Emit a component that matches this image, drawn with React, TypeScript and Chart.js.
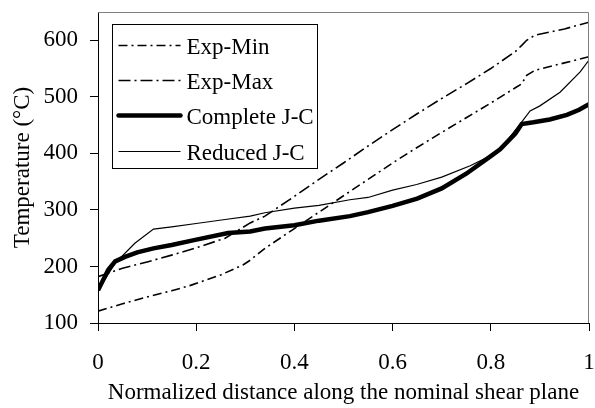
import React, { useEffect, useRef } from "react";
import { Chart, registerables } from "chart.js";

Chart.register(...registerables);

// ---- data ----
const expMaxX = [0, 0.05, 0.1, 0.15, 0.2, 0.259, 0.31, 0.34, 0.4, 0.45, 0.5, 0.55, 0.6, 0.65, 0.7, 0.75, 0.8, 0.85, 0.863, 0.873, 0.89, 0.95, 1.0];
const expMaxY = [182, 197, 208, 220, 233, 250, 277, 289, 324, 354, 383, 413, 442, 470, 497, 523, 550, 580, 591, 600, 609, 620, 632];

const expMinX = [0, 0.05, 0.1, 0.15, 0.19, 0.25, 0.296, 0.31, 0.34, 0.4, 0.45, 0.5, 0.55, 0.6, 0.649, 0.7, 0.75, 0.8, 0.85, 0.863, 0.873, 0.89, 0.95, 1.0];
const expMinY = [121, 134, 146, 157, 167, 185, 203, 211, 232, 267, 296, 325, 354, 383, 410, 437, 463, 489, 516, 523, 538, 547, 560, 571];

const completeX = [0, 0.021, 0.035, 0.055, 0.08, 0.113, 0.15, 0.198, 0.265, 0.31, 0.34, 0.4, 0.45, 0.513, 0.55, 0.6, 0.65, 0.7, 0.75, 0.8, 0.819, 0.85, 0.863, 0.887, 0.92, 0.955, 0.98, 1.0];
const completeY = [158, 194, 209, 217, 225, 232, 238, 247, 259, 262, 267, 273, 281, 289, 296, 307, 320, 338, 364, 395, 407, 435, 452, 455, 460, 468, 477, 487];

const reducedX = [0, 0.035, 0.075, 0.113, 0.15, 0.2, 0.259, 0.31, 0.34, 0.4, 0.45, 0.513, 0.55, 0.6, 0.649, 0.7, 0.758, 0.8, 0.819, 0.86, 0.88, 0.9, 0.941, 0.982, 1.0];
const reducedY = [158, 206, 241, 266, 270, 276, 283, 289, 295, 303, 308, 318, 322, 335, 345, 358, 378, 396, 407, 452, 475, 484, 508, 544, 565];

const seriesNames = ["Exp-Min", "Exp-Max", "Complete J-C", "Reduced J-C"];
const xTicks = [0, 0.2, 0.4, 0.6, 0.8, 1];
const yTicks = [100, 200, 300, 400, 500, 600];

const FONT = "'Liberation Serif', 'Times New Roman', serif";
const FS = 23;

const toPts = (xs: number[], ys: number[]) => xs.map((x, i) => ({ x, y: ys[i] }));

const zeroPad = (s: any) => {
  s.paddingLeft = 0;
  s.paddingRight = 0;
  s.paddingTop = 0;
  s.paddingBottom = 0;
};

const framePlugin = {
  id: "frameAndLegend",
  afterDatasetsDraw(chart: any) {
    const { ctx, chartArea } = chart;
    const { left, right, top, bottom } = chartArea;
    ctx.save();
    // grey top/right frame
    ctx.strokeStyle = "#808080";
    ctx.lineWidth = 1;
    ctx.beginPath();
    ctx.moveTo(left, top + 0.5);
    ctx.lineTo(right - 0.5, top + 0.5);
    ctx.lineTo(right - 0.5, bottom);
    ctx.stroke();

    // legend box
    const bx = left + 14.5;
    const by = top + 12.5;
    const bw = 205;
    const bh = 144;
    ctx.fillStyle = "#ffffff";
    ctx.fillRect(bx, by, bw, bh);
    ctx.strokeStyle = "#000000";
    ctx.lineWidth = 1;
    ctx.strokeRect(bx, by, bw, bh);
    const rowY = [21, 56, 91, 127];
    chart.data.datasets.forEach((ds: any, i: number) => {
      const y = by + rowY[i];
      ctx.beginPath();
      ctx.strokeStyle = ds.borderColor;
      ctx.lineWidth = ds.borderWidth;
      ctx.setLineDash(ds.borderDash || []);
      ctx.lineCap = i === 2 ? "round" : "butt";
      ctx.moveTo(bx + 6, y);
      ctx.lineTo(bx + 68, y);
      ctx.stroke();
      ctx.setLineDash([]);
      ctx.fillStyle = "#000";
      ctx.font = `${FS}px ${FONT}`;
      ctx.textBaseline = "middle";
      ctx.textAlign = "left";
      ctx.fillText(ds.label, bx + 74, y + 2);
    });
    ctx.restore();
  },
};

export default function App() {
  const ref = useRef<HTMLCanvasElement>(null);
  useEffect(() => {
    if (!ref.current) return;
    const chart = new Chart(ref.current, {
      type: "line",
      data: {
        datasets: [
          {
            label: seriesNames[0],
            data: toPts(expMinX, expMinY),
            borderColor: "#000",
            borderWidth: 1.6,
            borderDash: [9, 4, 2, 4],
            pointRadius: 0,
            tension: 0,
          },
          {
            label: seriesNames[1],
            data: toPts(expMaxX, expMaxY),
            borderColor: "#000",
            borderWidth: 1.6,
            borderDash: [12, 4, 2, 4],
            pointRadius: 0,
            tension: 0,
          },
          {
            label: seriesNames[2],
            data: toPts(completeX, completeY),
            borderColor: "#000",
            borderWidth: 4.5,
            pointRadius: 0,
            tension: 0,
          },
          {
            label: seriesNames[3],
            data: toPts(reducedX, reducedY),
            borderColor: "#000",
            borderWidth: 1.2,
            pointRadius: 0,
            tension: 0,
          },
        ],
      },
      options: {
        responsive: false,
        animation: false,
        layout: { padding: { top: 12, right: 6, left: 0, bottom: 0 } },
        plugins: { legend: { display: false }, tooltip: { enabled: false } },
        scales: {
          x: {
            type: "linear",
            min: 0,
            max: 1,
            afterBuildTicks: (s: any) => {
              s.ticks = xTicks.map((v) => ({ value: v }));
            },
            afterFit: (s: any) => {
              s.height = 85;
              zeroPad(s);
            },
            ticks: {
              color: "#000",
              font: { family: FONT, size: FS },
              padding: 18,
              maxRotation: 0,
              autoSkip: false,
              callback: (v: any) => String(Math.round(Number(v) * 10) / 10),
            },
            grid: {
              display: true,
              drawOnChartArea: false,
              drawTicks: true,
              tickLength: 8,
              color: "#000",
            },
            border: { display: true, color: "#000", width: 1 },
            title: {
              display: true,
              text: "Normalized distance along the nominal shear plane",
              color: "#000",
              font: { family: FONT, size: FS },
              padding: { top: 0, bottom: 1 },
            },
          },
          y: {
            type: "linear",
            min: 100,
            max: 650,
            afterBuildTicks: (s: any) => {
              s.ticks = yTicks.map((v) => ({ value: v }));
            },
            afterFit: (s: any) => {
              s.width = 98;
              zeroPad(s);
            },
            ticks: {
              color: "#000",
              font: { family: FONT, size: FS },
              padding: 12,
              autoSkip: false,
            },
            grid: {
              display: true,
              drawOnChartArea: false,
              drawTicks: true,
              tickLength: 8,
              color: "#000",
            },
            border: { display: true, color: "#000", width: 1 },
            title: {
              display: true,
              text: "Temperature (°C)",
              color: "#000",
              font: { family: FONT, size: FS },
              padding: { top: 9, bottom: 0 },
            },
          },
        },
      },
      plugins: [framePlugin],
    } as any);
    return () => chart.destroy();
  }, []);
  return (
    <div style={{ position: "fixed", left: 0, top: 0, width: 595, height: 408, background: "#fff" }}>
      <canvas ref={ref} width={595} height={408} style={{ display: "block" }} />
    </div>
  );
}
